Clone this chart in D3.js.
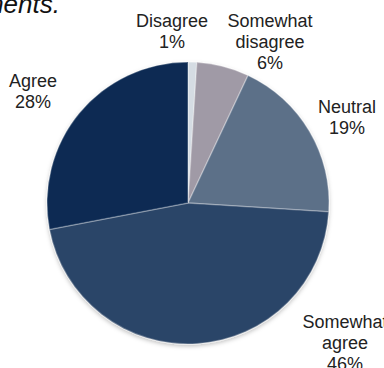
<!DOCTYPE html>
<html>
<head>
<meta charset="utf-8">
<script src="https://cdn.jsdelivr.net/npm/d3@7"></script>
<style>
  body { margin: 0; background: #fff; }
  svg { display: block; font-family: "Liberation Sans", Arial, sans-serif; }
</style>
</head>
<body>
<div id="chart"></div>
<script>
// responses, clockwise from 12 o'clock
const categories = ["Disagree", "Somewhat disagree", "Neutral", "Somewhat agree", "Agree"];
const values = [1, 6, 19, 46, 28];
const labelLines = [["Disagree", "1%"], ["Somewhat", "disagree", "6%"], ["Neutral", "19%"], ["Somewhat", "agree", "46%"], ["Agree", "28%"]];
const colors = ["#d5dce3", "#a09aa6", "#5b6f88", "#2b4567", "#0b2a53"];

const width = 384, height = 368;
const cx = 188, cy = 203, r = 141;

// label anchor points (label centre x, first baseline y)
const labelPos = [[172, 27], [270, 27], [347, 113], [345, 328], [33, 87]];

const svg = d3.select("#chart").append("svg")
    .attr("width", width)
    .attr("height", height);

const defs = svg.append("defs");
const shadow = defs.append("filter").attr("id", "shadow")
    .attr("x", "-10%").attr("y", "-10%").attr("width", "120%").attr("height", "120%");
shadow.append("feDropShadow")
    .attr("dx", 0).attr("dy", 2).attr("stdDeviation", 2)
    .attr("flood-color", "#000").attr("flood-opacity", 0.25);

// title fragment cut off at top
svg.append("text")
    .attr("x", 60).attr("y", 13)
    .attr("text-anchor", "end")
    .style("font-size", "26px")
    .style("font-style", "italic")
    .style("fill", "#111")
    .text("statements.");

const pie = d3.pie().sort(null).value(d => d)(values);
const arc = d3.arc().innerRadius(0).outerRadius(r);

const g = svg.append("g")
    .attr("transform", "translate(" + cx + "," + cy + ")")
    .attr("filter", "url(#shadow)");

g.selectAll("path")
    .data(pie)
    .enter().append("path")
    .attr("d", arc)
    .style("fill", (d, i) => colors[i])
    .style("stroke", "rgba(255,255,255,0.28)")
    .style("stroke-width", 1.5);

const lab = svg.append("g").selectAll("text")
    .data(labelLines)
    .enter().append("text")
    .attr("text-anchor", "middle")
    .style("font-size", "18px")
    .style("fill", "#222");

lab.each(function(lines, i) {
    const t = d3.select(this);
    lines.forEach((s, j) => {
        t.append("tspan")
            .attr("x", labelPos[i][0])
            .attr("y", labelPos[i][1] + j * 21)
            .text(s);
    });
});
</script>
</body>
</html>
